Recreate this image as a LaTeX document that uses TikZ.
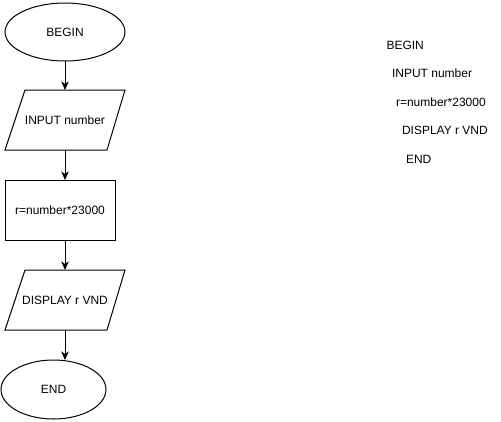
\documentclass[tikz,border=0pt]{standalone}
\usepackage{fontspec}
\setmainfont{Liberation Sans}
\usetikzlibrary{shapes.geometric,arrows.meta}
\begin{document}
\begin{tikzpicture}[x=1pt,y=-1pt,
  font=\fontsize{12}{14}\selectfont,
  every node/.style={inner sep=0pt, outer sep=0pt},
  shapebox/.style={draw, line width=1pt, align=center},
  termbox/.style={shapebox, ellipse},
  iobox/.style={rectangle, align=center, minimum width=120pt, minimum height=60pt},
  ioline/.style={line width=1pt, line join=miter},
  procbox/.style={shapebox, rectangle, minimum width=110pt, minimum height=60pt},
  arr/.style={line width=1pt, -{Stealth[length=8.5pt,width=7.5pt,inset=2.5pt]}},
  plaintext/.style={anchor=base west}
]
\useasboundingbox (0,0) rectangle (501,421);
\node[termbox, minimum width=120pt, minimum height=58pt] (begin) at (65,32) {BEGIN};
\node[iobox] (input) at (65,120) {INPUT number};
\draw[ioline] ([xshift=20pt]input.north west) -- (input.north east)
  -- ([xshift=-18pt]input.south east) -- (input.south west) -- cycle;
\node[procbox] (calc) at (60,210) {r=number*23000};
\node[iobox] (disp) at (65,300) {DISPLAY r VND};
\draw[ioline] ([xshift=20pt]disp.north west) -- (disp.north east)
  -- ([xshift=-18pt]disp.south east) -- (disp.south west) -- cycle;
\node[termbox, minimum width=105pt, minimum height=59pt] (end) at (53.5,389.5) {END};

\draw[arr] (begin.south) -- (input.north -| begin.south);
\draw[arr] (input.south -| begin.south) -- (calc.north -| begin.south);
\draw[arr] (calc.south -| begin.south) -- (disp.north -| begin.south);
\draw[arr] (disp.south -| begin.south) -- (begin.south |- end.north);

\node[plaintext] (t1) at (386.5,49.5) {BEGIN};
\node[plaintext] (t2) at (392,77) {INPUT number};
\node[plaintext] (t3) at (396,106) {r=number*23000};
\node[plaintext] (t4) at (402,134.5) {DISPLAY r VND};
\node[plaintext] (t5) at (406,163) {END};
\end{tikzpicture}
\end{document}
